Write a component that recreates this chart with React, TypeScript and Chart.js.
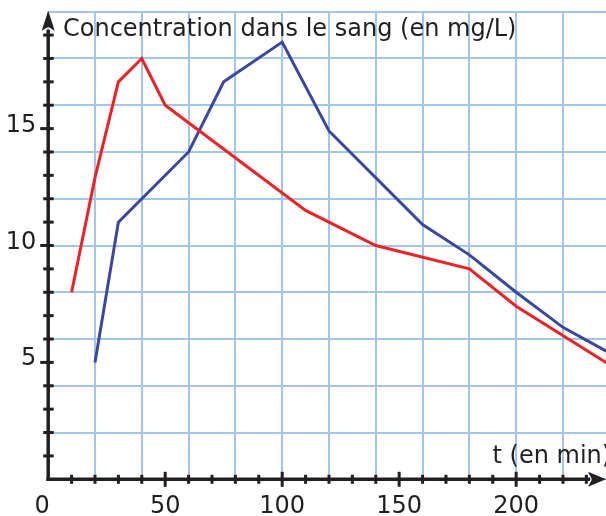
import React, { useEffect, useRef } from "react";
import { Chart, registerables } from "chart.js";

Chart.register(...registerables);

// ---- data ----
const redTimes = [10, 20, 30, 40, 50, 110, 140, 180, 200, 240];
const redConc = [8, 12.9, 17, 18, 16, 11.5, 10, 9, 7.4, 4.9];
const blueTimes = [20, 30, 60, 75, 100, 120, 160, 180, 200, 220, 240];
const blueConc = [5, 11, 14, 17, 18.7, 14.9, 10.9, 9.6, 8, 6.5, 5.4];

const xTickLabels = [50, 100, 150, 200];
const yTickLabels = [5, 10, 15];
const originLabel = "0";
const yTitle = "Concentration dans le sang (en mg/L)";
const xTitle = "t (en min)";

const X_MAX = 238.4;
const Y_MAX = 20;

const AXIS = "#231f20";
const GRID = "#a3c6e8";
const RED = "#ec2227";
const BLUE = "#3b469e";
const FONT = "24px 'DejaVu Sans'";

const axesPlugin = {
  id: "customAxes",
  afterDraw(chart: any) {
    const ctx = chart.ctx as CanvasRenderingContext2D;
    const xs = chart.scales.x;
    const ys = chart.scales.y;
    const x0 = xs.getPixelForValue(0);
    const y0 = ys.getPixelForValue(0);
    const yTop = ys.getPixelForValue(Y_MAX);
    const xRight = chart.width;
    ctx.save();
    ctx.strokeStyle = AXIS;
    ctx.fillStyle = AXIS;
    ctx.lineCap = "butt";

    // axis lines
    ctx.lineWidth = 3.5;
    ctx.beginPath();
    ctx.moveTo(x0, y0 + 1.75);
    ctx.lineTo(x0, yTop + 18);
    ctx.stroke();
    ctx.beginPath();
    ctx.moveTo(x0 - 1.75, y0);
    ctx.lineTo(xRight - 16, y0);
    ctx.stroke();

    // y ticks
    ctx.lineWidth = 3;
    for (let v = 1; v < Y_MAX; v++) {
      const py = ys.getPixelForValue(v);
      const major = v % 5 === 0;
      ctx.beginPath();
      ctx.moveTo(x0 - (major ? 8 : 5), py);
      ctx.lineTo(x0 + 5.5, py);
      ctx.stroke();
    }
    // x ticks
    for (let v = 10; v < X_MAX; v += 10) {
      const px = xs.getPixelForValue(v);
      const major = v % 50 === 0;
      ctx.beginPath();
      ctx.moveTo(px, y0 - (major ? 7.5 : 4.5));
      ctx.lineTo(px, y0 + (major ? 7.5 : 4.5));
      ctx.stroke();
    }

    // arrows
    const tipY = yTop - 1;
    ctx.beginPath();
    ctx.moveTo(x0, tipY);
    ctx.lineTo(x0 + 6.5, tipY + 20);
    ctx.lineTo(x0, tipY + 16);
    ctx.lineTo(x0 - 6.5, tipY + 20);
    ctx.closePath();
    ctx.fill();

    const tipX = xRight;
    ctx.beginPath();
    ctx.moveTo(tipX, y0);
    ctx.lineTo(tipX - 18, y0 - 7.5);
    ctx.lineTo(tipX - 14, y0);
    ctx.lineTo(tipX - 18, y0 + 7.5);
    ctx.closePath();
    ctx.fill();

    // labels
    ctx.font = FONT;
    ctx.textBaseline = "alphabetic";
    ctx.textAlign = "right";
    for (const v of yTickLabels) {
      ctx.fillText(String(v), x0 - 12, ys.getPixelForValue(v) + 3);
    }
    ctx.textAlign = "center";
    for (const v of xTickLabels) {
      ctx.fillText(String(v), xs.getPixelForValue(v), 513);
    }
    ctx.fillText(originLabel, x0 - 6, 513);

    ctx.textAlign = "left";
    ctx.fillText(yTitle, 63, 35.5);
    ctx.fillText(xTitle, 492.5, 462.7);
    ctx.restore();
  },
};

export default function App() {
  const ref = useRef<HTMLCanvasElement | null>(null);
  useEffect(() => {
    if (!ref.current) return;
    const chart = new Chart(ref.current, {
      type: "line",
      data: {
        datasets: [
          {
            data: redTimes.map((t, i) => ({ x: t, y: redConc[i] })),
            borderColor: RED,
            borderWidth: 3,
            pointRadius: 0,
            tension: 0,
            fill: false,
          },
          {
            data: blueTimes.map((t, i) => ({ x: t, y: blueConc[i] })),
            borderColor: BLUE,
            borderWidth: 3,
            pointRadius: 0,
            tension: 0,
            fill: false,
          },
        ],
      },
      options: {
        animation: false,
        responsive: false,
        layout: { padding: { left: 48.2, right: 0, top: 11.7, bottom: 36.7 } },
        plugins: { legend: { display: false }, tooltip: { enabled: false } },
        scales: {
          x: {
            type: "linear",
            min: 0,
            max: X_MAX,
            ticks: { display: false, stepSize: 20, includeBounds: false },
            grid: { color: GRID, lineWidth: 2, drawTicks: false },
            border: { display: false },
          },
          y: {
            type: "linear",
            min: 0,
            max: Y_MAX,
            ticks: { display: false, stepSize: 2, includeBounds: false },
            grid: { color: GRID, lineWidth: 2, drawTicks: false },
            border: { display: false },
          },
        },
      },
      plugins: [axesPlugin],
    } as any);
    return () => chart.destroy();
  }, []);
  return (
    <div style={{ position: "absolute", left: 0, top: 0, width: 606, height: 516, background: "#fff" }}>
      <canvas ref={ref} width={606} height={516} />
    </div>
  );
}
